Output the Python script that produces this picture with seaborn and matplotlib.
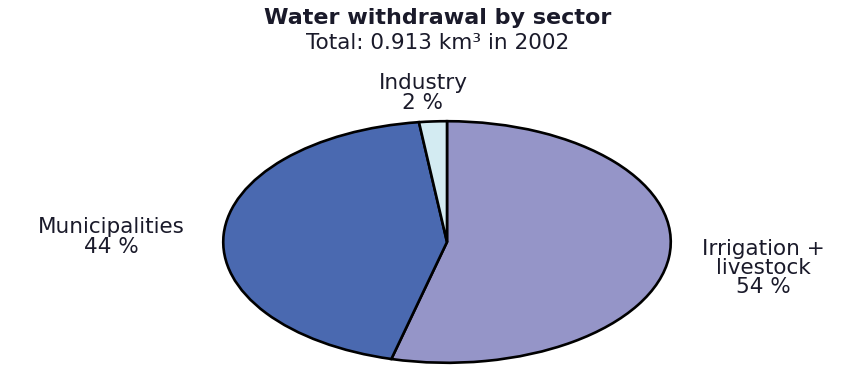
import matplotlib
matplotlib.use("Agg")
import matplotlib.pyplot as plt
import seaborn as sns

# Water withdrawal by sector, share of total (%)
sectors = ["Irrigation +\nlivestock", "Municipalities", "Industry"]
shares = [54, 44, 2]
colors = ["#9595c8", "#4a69b0", "#d3ebf2"]

title = "Water withdrawal by sector"
subtitle = "Total: 0.913 km³ in 2002"

sns.set_theme(style="white")
plt.rcParams["font.family"] = ["DejaVu Sans"]

W, H = 845, 365
fig = plt.figure(figsize=(W / 100, H / 100), dpi=100)
fig.patch.set_facecolor("white")

# elliptical pie: bounding box in pixels (left, top, right, bottom)
px_l, px_t, px_r, px_b = 221, 120, 673, 364
ax = fig.add_axes([px_l / W, (H - px_b) / H, (px_r - px_l) / W, (px_b - px_t) / H])
ax.pie(
    shares,
    colors=colors,
    startangle=90,
    counterclock=False,
    wedgeprops=dict(edgecolor="black", linewidth=1.9),
)
ax.set_aspect("auto")
ax.set_xlim(-1.01, 1.01)
ax.set_ylim(-1.01, 1.01)
ax.axis("off")

txt = "#1a1a2a"


def ftext(x, y, s, **kw):
    fig.text(x / W, 1 - y / H, s, ha="center", va="center", color=txt, **kw)


ftext(438, 18, title, fontsize=16, fontweight="bold")
ftext(438, 43, subtitle, fontsize=15.5)

label_pos = {
    "Irrigation +\nlivestock": (763, 268),
    "Municipalities": (111, 237),
    "Industry": (423, 93),
}
for name, val in zip(sectors, shares):
    x, y = label_pos[name]
    ftext(x, y, f"{name}\n{val} %", fontsize=15.5, linespacing=0.95)

fig.savefig("out.png", dpi=100, facecolor="white")
